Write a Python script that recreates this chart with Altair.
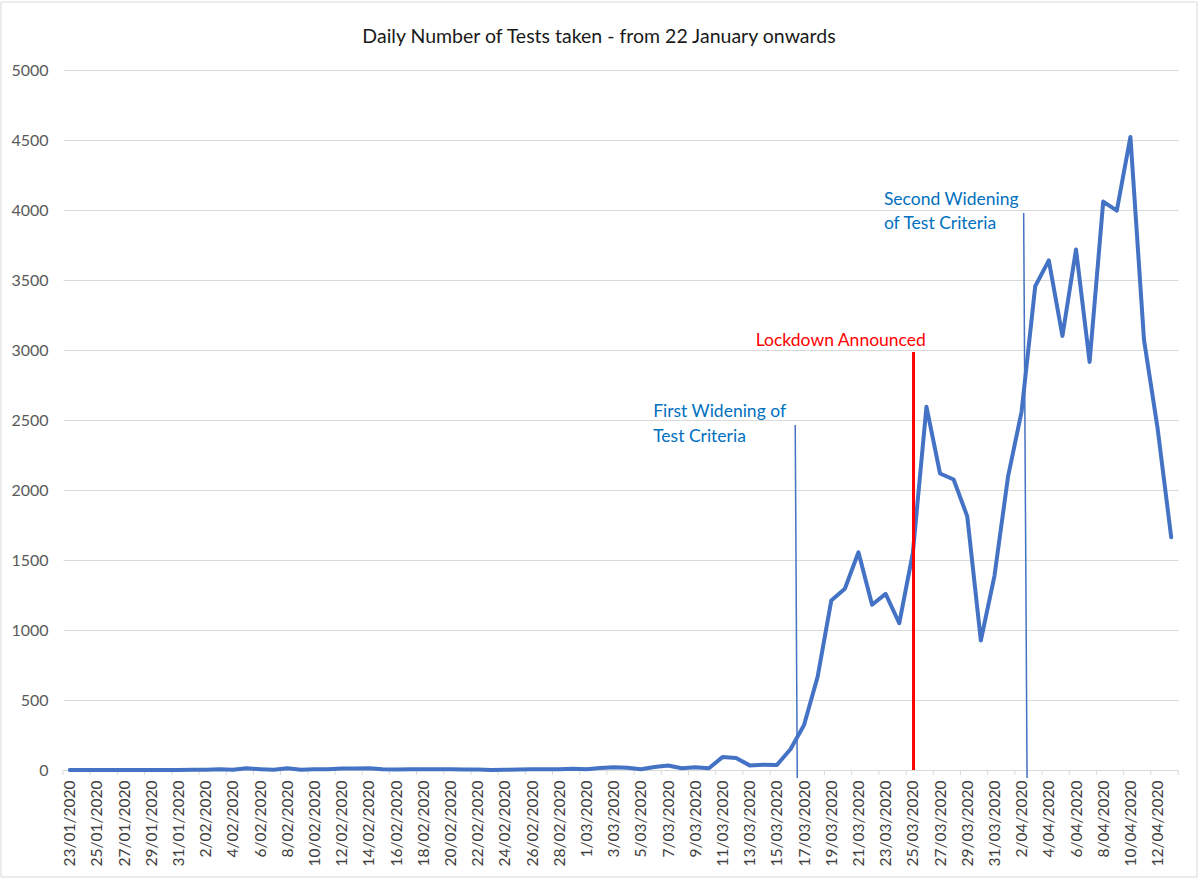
import altair as alt
import pandas as pd

dates = [
    "23/01/2020", "24/01/2020", "25/01/2020", "26/01/2020", "27/01/2020", "28/01/2020",
    "29/01/2020", "30/01/2020", "31/01/2020", "1/02/2020", "2/02/2020", "3/02/2020",
    "4/02/2020", "5/02/2020", "6/02/2020", "7/02/2020", "8/02/2020", "9/02/2020",
    "10/02/2020", "11/02/2020", "12/02/2020", "13/02/2020", "14/02/2020", "15/02/2020",
    "16/02/2020", "17/02/2020", "18/02/2020", "19/02/2020", "20/02/2020", "21/02/2020",
    "22/02/2020", "23/02/2020", "24/02/2020", "25/02/2020", "26/02/2020", "27/02/2020",
    "28/02/2020", "29/02/2020", "1/03/2020", "2/03/2020", "3/03/2020", "4/03/2020",
    "5/03/2020", "6/03/2020", "7/03/2020", "8/03/2020", "9/03/2020", "10/03/2020",
    "11/03/2020", "12/03/2020", "13/03/2020", "14/03/2020", "15/03/2020", "16/03/2020",
    "17/03/2020", "18/03/2020", "19/03/2020", "20/03/2020", "21/03/2020", "22/03/2020",
    "23/03/2020", "24/03/2020", "25/03/2020", "26/03/2020", "27/03/2020", "28/03/2020",
    "29/03/2020", "30/03/2020", "31/03/2020", "1/04/2020", "2/04/2020", "3/04/2020",
    "4/04/2020", "5/04/2020", "6/04/2020", "7/04/2020", "8/04/2020", "9/04/2020",
    "10/04/2020", "11/04/2020", "12/04/2020", "13/04/2020",
]

tests = [
    0, 0, 0, 0, 0, 0, 0, 0, 0, 1, 2, 6,
    2, 12, 6, 2, 12, 2, 5, 6, 10, 11, 12, 6,
    4, 5, 5, 5, 5, 4, 3, 0, 1, 4, 5, 6,
    6, 9, 5, 15, 20, 16, 6, 22, 32, 12, 19, 12,
    92, 86, 33, 37, 36, 148, 321, 667, 1210, 1295, 1555, 1180,
    1258, 1048, 1550, 2595, 2118, 2075, 1812, 925, 1385, 2095, 2562, 3455,
    3640, 3100, 3718, 2915, 4060, 3995, 4522, 3072, 2440, 1662,
]

title_text = "Daily Number of Tests taken - from 22 January onwards"

# annotation lines (x in day index, y in tests)
ann_line_id = ["first", "first", "lock", "lock", "second", "second"]
ann_line_x = [53.35, 53.5, 62.05, 62.05, 70.15, 70.4]
ann_line_y = [2464, -57, 2986, 0, 3979, -57]
ann_line_color = ["#4472C4", "#4472C4", "#FF0000", "#FF0000", "#4472C4", "#4472C4"]
ann_line_width = [1.5, 1.5, 3, 3, 1.5, 1.5]

ann_text = ["First Widening of", "Test Criteria", "Lockdown Announced",
            "Second Widening", "of Test Criteria"]
ann_text_x = [42.9, 42.9, 56.7, 59.87, 59.87]
ann_text_y = [2557, 2379, 3064, 4071, 3900]
ann_text_color = ["#0070C0", "#0070C0", "#FF0000", "#0070C0", "#0070C0"]
ann_text_align = ["left", "left", "center", "left", "left"]

y_ticks = list(range(0, 5001, 500))

W, H = 1115, 700
FONT = "Lato"

n = len(dates)
df = pd.DataFrame({"i": list(range(n)), "date": dates, "tests": tests})
label_idx = list(range(0, n, 2))
tick_pos = [i - 0.5 for i in range(0, n + 1, 2)]
ticks_df = pd.DataFrame({"x": tick_pos})

label_arr = "[" + ",".join("'" + d + "'" for d in dates) + "]"

xscale = alt.Scale(domain=[-0.5, n - 0.5], nice=False, zero=False)
yscale = alt.Scale(domain=[0, 5000], nice=False)

x_axis = alt.Axis(
    values=label_idx, labelExpr=label_arr + "[datum.value]",
    labelAngle=-90, labelFont=FONT, labelFontSize=15.5, labelColor="#404040",
    labelPadding=10, ticks=False, grid=False, domainColor="#d9d9d9",
    domainWidth=1, labelOverlap=False, labelFlush=False, labelBound=False,
)
y_axis = alt.Axis(
    values=y_ticks, format="d", labelFont=FONT, labelFontSize=16,
    labelColor="#595959", labelPadding=15, ticks=False, domain=False,
    grid=True, gridColor="#d9d9d9", gridWidth=1, labelOverlap=False,
)


def X(field):
    return alt.X(field, scale=xscale, title=None, axis=x_axis)


def Y(field):
    return alt.Y(field, scale=yscale, title=None, axis=y_axis)


border = alt.Chart(pd.DataFrame({"a": [0]})).mark_rect(
    fill=None, stroke="#d9d9d9", strokeWidth=1
).encode(
    x=alt.value(-62), x2=alt.value(1134), y=alt.value(-68), y2=alt.value(807)
)

title = alt.Chart(pd.DataFrame({"t": [title_text]})).mark_text(
    font=FONT, fontSize=19.5, color="#1a1a1a", align="center", baseline="middle"
).encode(text="t:N", x=alt.value(536), y=alt.value(-33))

line = alt.Chart(df).mark_line(
    color="#4472C4", strokeWidth=4, strokeJoin="round", strokeCap="round"
).encode(x=X("i:Q"), y=Y("tests:Q"))

tick_marks = alt.Chart(ticks_df).mark_rule(color="#d9d9d9", strokeWidth=1).encode(
    x=X("x:Q"),
    y=alt.value(H), y2=alt.value(H + 5),
)

ann_lines_df = pd.DataFrame({
    "id": ann_line_id, "x": ann_line_x, "y": ann_line_y, "c": ann_line_color,
    "w": ann_line_width,
})
ann_lines = alt.Chart(ann_lines_df).mark_line().encode(
    x=X("x:Q"),
    y=Y("y:Q"),
    detail="id:N",
    color=alt.Color("c:N", scale=None),
    strokeWidth=alt.StrokeWidth("w:Q", scale=None),
)

ann_text_df = pd.DataFrame({
    "t": ann_text, "x": ann_text_x, "y": ann_text_y, "c": ann_text_color,
    "a": ann_text_align,
})
texts = []
for al in ["left", "center"]:
    texts.append(
        alt.Chart(ann_text_df[ann_text_df["a"] == al]).mark_text(
            align=al, baseline="middle", font=FONT, fontSize=17.5
        ).encode(
            x=X("x:Q"),
            y=Y("y:Q"),
            text="t:N",
            color=alt.Color("c:N", scale=None),
        )
    )

chart = alt.layer(border, title, tick_marks, line, ann_lines, *texts).properties(
    width=W, height=H,
    background="white",
    autosize=alt.AutoSizeParams(type="none"),
    padding={"left": 63, "top": 70, "right": 22, "bottom": 114},
).configure_view(stroke=None)

chart.save("out.html", embed_options={"renderer": "svg", "actions": False})
